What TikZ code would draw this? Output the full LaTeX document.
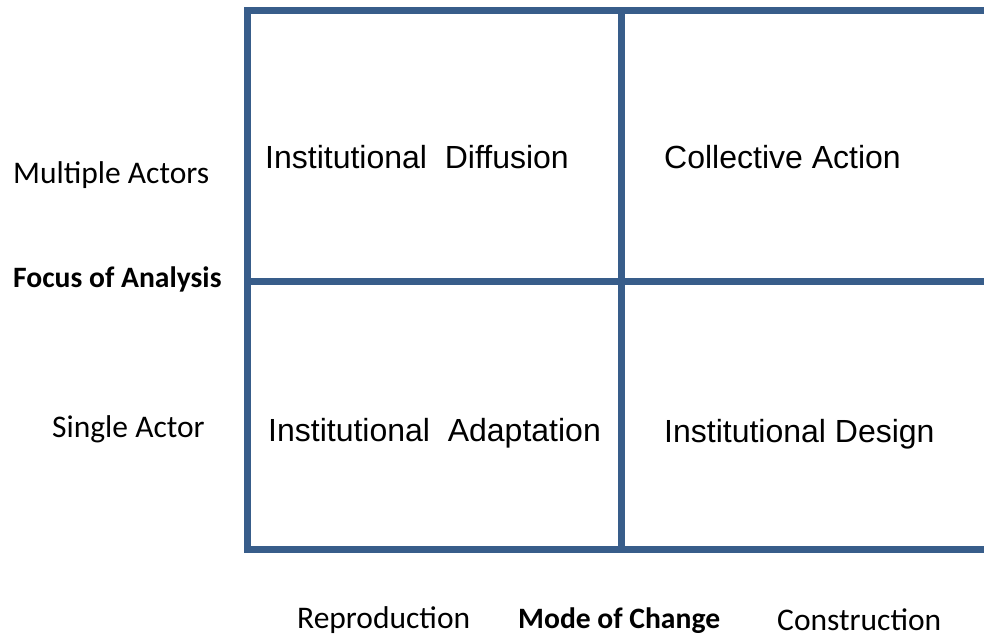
\documentclass[tikz,border=0pt]{standalone}
\usepackage{fontspec}
\setmainfont{Liberation Sans}
\newfontfamily\labelfont{Carlito}
\usepackage{xcolor}
\definecolor{gridblue}{HTML}{385D8A}

\tikzset{
	gridline/.style = {draw=gridblue, line width=7pt, line join=miter},
	cell/.style = {anchor=west, inner sep=0pt, font=\fontsize{32}{38}\selectfont},
	axislabel/.style = {anchor=west, inner sep=0pt, font=\labelfont\fontsize{31.5}{38}\selectfont},
	axistitle/.style = {axislabel, font=\labelfont\bfseries\fontsize{29.6}{36}\selectfont}
}

\begin{document}
\begin{tikzpicture}[x=1pt, y=-1pt]
	\useasboundingbox (0,0) rectangle (984,637);
	%\draw[help lines] (0,0) grid[step=50] (984,637);
	
	% grid
	\draw[gridline] (984,10.5) -- (247,10.5) -- (247,549) -- (984,549);
	\draw[gridline] (621,10.5) -- (621,549);
	\draw[gridline] (247,281) -- (984,281);
	
	% cells
	\node[cell] (diffusion)  at (265,157) {Institutional\ \ Diffusion};
	\node[cell] (collective) at (664,157) {Collective Action};
	\node[cell] (adaptation) at (268,433) {Institutional\ \ Adaptation};
	\node[cell] (design)     at (664,434) {Institutional Design};
	
	% focus of analysis
	\node[axislabel] (multiple) at (13,175) {Multiple Actors};
	\node[axistitle] (focus)    at (13,279) {Focus of Analysis};
	\node[axislabel] (single)   at (52,429) {Single Actor};
	
	% mode of change
	\node[axislabel] (reproduction) at (297,620) {Reproduction};
	\node[axistitle] (mode)         at (518,621) {Mode of Change};
	\node[axislabel] (construction) at (777,620) {Construction};
\end{tikzpicture}
\end{document}
